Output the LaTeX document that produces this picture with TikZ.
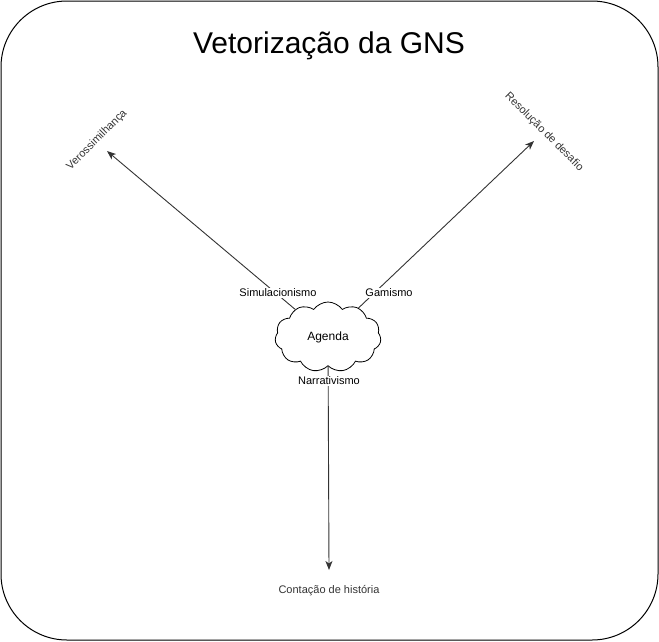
\documentclass[tikz,border=0pt]{standalone}
\usepackage{fontspec}
\setmainfont{Liberation Sans}
\usetikzlibrary{shapes.symbols}
\usetikzlibrary{arrows.meta}

\begin{document}
\begin{tikzpicture}[x=1pt, y=-1pt]
  \tikzstyle{agenda}=[cloud, cloud puffs = 11, cloud puff arc = 110, aspect = 1.6, draw = black, thick, minimum width = 106pt, minimum height = 70pt, inner sep = 0pt, font = \fontsize{12}{14}\selectfont]
  \tikzstyle{connect}=[-{Stealth[length = 9pt, width = 7pt, inset = 2.5pt]}, line width = 0.9pt, draw = black!80]
  \tikzstyle{label}=[fill = white, inner sep = 1pt, font = \fontsize{11}{13}\selectfont]
  \tikzstyle{goal}=[inner sep = 0pt, text = black!80, font = \fontsize{11}{13}\selectfont]

  \useasboundingbox (0,0) rectangle (659,641);
  \draw[line width = 1pt, rounded corners = 66pt] (1,1) rectangle (658,640);

  \node (t) at (329,46) {\fontsize{30}{35}\selectfont Vetorização da GNS};

  \node[agenda] (ag) at (328,337) { Agenda };

  \coordinate (vt) at (107,151);
  \coordinate (rt) at (534,141);
  \coordinate (ct) at (329,570);

  \node[goal, rotate = 45] (v) at (97,140) { Verossimilhança };
  \node[goal, rotate = -45] (r) at (544,132) { Resolução de desafio };
  \node[goal] (c) at (329,591) { Contação de história };

  \path (ag) edge [connect] (vt)
        (ag) edge [connect] (rt)
        (ag) edge [connect] (ct);

  \node[label] (s) at (278,293) { Simulacionismo };
  \node[label] (g) at (389,293) { Gamismo };
  \node[label] (n) at (329,381) { Narrativismo };

\end{tikzpicture}
\end{document}
